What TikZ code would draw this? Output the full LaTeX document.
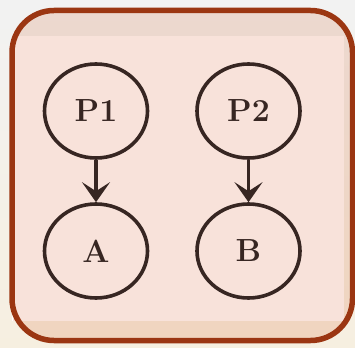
\documentclass[tikz,border=0pt]{standalone}
\usetikzlibrary{shapes.geometric,arrows.meta}
\definecolor{pagetop}{RGB}{242,242,242}
\definecolor{pagebot}{RGB}{246,239,224}
\definecolor{bandtop}{RGB}{236,216,207}
\definecolor{bandbot}{RGB}{240,213,191}
\definecolor{imgpink}{RGB}{248,226,218}
\definecolor{framered}{RGB}{155,54,18}
\definecolor{ink}{RGB}{55,38,34}
\tikzset{
  state/.style={draw=ink,line width=3.6pt,ellipse,minimum width=103pt,minimum height=94pt,
    inner sep=0pt,text=ink,font=\fontsize{32}{36}\selectfont\bfseries},
  link/.style={draw=ink,line width=3.4pt,-{Stealth[length=20pt,width=28pt,inset=9pt]}}
}
\begin{document}
\begin{tikzpicture}[x=1pt,y=-1pt]
    \useasboundingbox (0,0) rectangle (355,347);
    \shade [top color=pagetop,bottom color=pagebot] (0,0) rectangle (355,347);
    \shade [top color=bandtop,bottom color=bandbot,rounded corners=42pt] (12,10.5) rectangle (352.5,340.5);
    \fill [white] (11.5,36.5) rectangle (343.5,320.5);
    \fill [imgpink] (12.5,36.5) rectangle (343.5,320.5);
    \draw [framered,line width=5.5pt,rounded corners=42pt] (12,10.5) rectangle (352.5,340.5);
    \node [state] (p1) at (96,111) {\raisebox{-4pt}{P1}};
    \node [state] (p2) at (248.5,111) {\raisebox{-4pt}{P2}};
    \node [state] (a) at (96,251) {\raisebox{-2pt}{A}};
    \node [state] (b) at (248.5,251) {\raisebox{-2pt}{B}};
    \draw [link] (p1) -- (a);
    \draw [link] (p2) -- (b);
  \end{tikzpicture}
\end{document}
